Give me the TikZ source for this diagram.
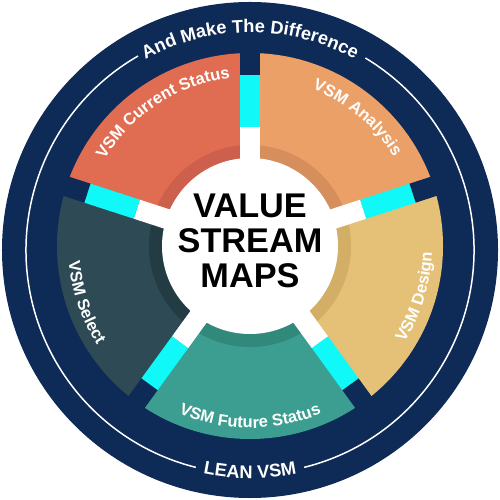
\documentclass[tikz,border=0pt]{standalone}
\usepackage{fontspec}
\newfontfamily\labelfont{Liberation Sans}
\usetikzlibrary{decorations.text}

\definecolor{navy}{RGB}{14,42,86}
\definecolor{cyanblock}{RGB}{16,248,248}
\definecolor{segred}{RGB}{224,108,82}
\definecolor{segredd}{RGB}{205,96,76}
\definecolor{segorange}{RGB}{235,160,104}
\definecolor{segoranged}{RGB}{214,142,92}
\definecolor{segyellow}{RGB}{228,193,118}
\definecolor{segyellowd}{RGB}{210,174,102}
\definecolor{segteal}{RGB}{59,158,145}
\definecolor{segteald}{RGB}{49,137,124}
\definecolor{segslate}{RGB}{45,74,85}
\definecolor{segslated}{RGB}{35,60,68}

\newcommand{\seglab}{\color{white}\labelfont\bfseries\fontsize{9.4}{11}\selectfont}
\newcommand{\rimlab}{\color{white}\labelfont\bfseries\fontsize{10.4}{12}\selectfont}

% one coloured ring piece: start angle, end angle, colour, inner colour
\newcommand{\vsmseg}[4]{%
\begin{scope}
\clip (0,0) -- (#1:4.5) arc[start angle=#1, end angle=#2, radius=4.5] -- cycle;
\fill[#3] (0,0) circle (3.86);
\fill[#4] (0,0) circle (2.02);
\end{scope}}

% text on an arc: start angle, end angle, radius, format, text
\newcommand{\arctext}[5]{%
\path[decorate, decoration={text along path, text align=center,
  text={|#4|#5}}] (#1:#3) arc[start angle=#1, end angle=#2, radius=#3];}

\begin{document}
\begin{tikzpicture}
\useasboundingbox (-5,-5) rectangle (5,5);

% rim
\fill[navy] (0,0) circle (4.96);
\draw[white, line width=0.85pt] (120:4.48) arc[start angle=120, end angle=256, radius=4.48];
\draw[white, line width=0.85pt] (-76:4.48) arc[start angle=-76, end angle=59, radius=4.48];
\arctext{150}{30}{4.35}{\rimlab}{And Make The Difference}
\arctext{240}{300}{4.57}{\rimlab}{LEAN VSM}

\begin{scope}[shift={(0,0.08)}]

\vsmseg{90}{162}{segred}{segredd}
\vsmseg{162}{234}{segslate}{segslated}
\vsmseg{234}{306}{segteal}{segteald}
\vsmseg{306}{378}{segyellow}{segyellowd}
\vsmseg{18}{90}{segorange}{segoranged}

% gaps
\foreach \a in {18,90,162,234,306} {
  \fill[white, rotate=\a] (0,-0.2) rectangle (2.38,0.2);
  \fill[cyanblock, rotate=\a] (2.38,-0.2) rectangle (3.42,0.2);
  \fill[navy, rotate=\a] (3.42,-0.2) rectangle (4.1,0.2);
}
\fill[white] (0,0) circle (1.76);

\node[align=center, font=\labelfont\bfseries\fontsize{19.5}{19.8}\selectfont] (title) at (0,0.1) {VALUE\\STREAM\\MAPS};

\arctext{170}{76}{3.38}{\seglab}{VSM Current Status}
\arctext{100}{0}{3.38}{\seglab}{VSM Analysis}
\arctext{-60}{26}{3.64}{\seglab}{VSM Design}
\arctext{-135}{-45}{3.64}{\seglab}{VSM Future Status}
\arctext{155}{243}{3.64}{\seglab}{VSM Select}
\end{scope}

\end{tikzpicture}
\end{document}
